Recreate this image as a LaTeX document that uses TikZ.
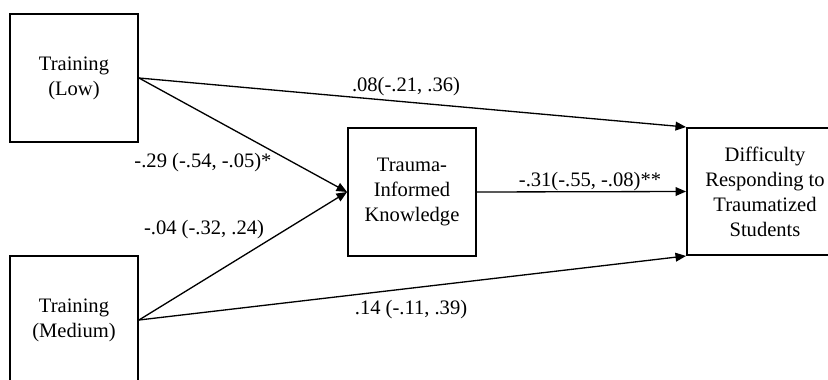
\documentclass[tikz,border=0pt]{standalone}
\usepackage{fontspec}
\setmainfont{Liberation Serif}
\usetikzlibrary{positioning,arrows.meta}

\begin{document}
\begin{tikzpicture}[
        x=0.02cm, y=-0.02cm,
        var/.style={draw, line width=1.1pt, align=center, inner sep=0pt,
            font=\fontsize{11.7}{14.2}\selectfont},
        coef/.style={font=\fontsize{11.7}{14.2}\selectfont, inner sep=0pt},
        arrow/.style={-{Triangle[length=6pt, width=5pt]}, line width=0.75pt}
    ]
        \clip (0,0) rectangle (828,379);
        \node[var, minimum width=2.56cm, minimum height=2.56cm] (low) at (74,78) {Training\\(Low)};
        \node[var, minimum width=2.56cm, minimum height=2.56cm] (med) at (74,320) {Training\\(Medium)};
        \node[var, minimum width=2.56cm, minimum height=2.56cm] (know) at (412,192) {Trauma-\\Informed\\Knowledge};
        \node[var, minimum width=3.12cm, minimum height=2.54cm] (diff) at (765,191.5) {Difficulty\\Responding to\\Traumatized\\Students};
        
        \draw[arrow] (low.east) -- (know.west);
        \draw[arrow] (med.east) -- (know.west);
        \draw[arrow] (low.east) -- (diff.north west);
        \draw[arrow] (med.east) -- (diff.south west);
        \draw[arrow] (know.east) -- (diff.west);
        
        \node[coef] (c1) at (406,87) {.08(-.21, .36)};
        \node[coef] (c2) at (203,163) {-.29 (-.54, -.05)*};
        \node[coef] (c3) at (204,230) {-.04 (-.32, .24)};
        \node[coef] (c4) at (411,310) {.14 (-.11, .39)};
        \node[coef] (c5) at (590,182) {-.31(-.55, -.08)**};
    \end{tikzpicture}
\end{document}
